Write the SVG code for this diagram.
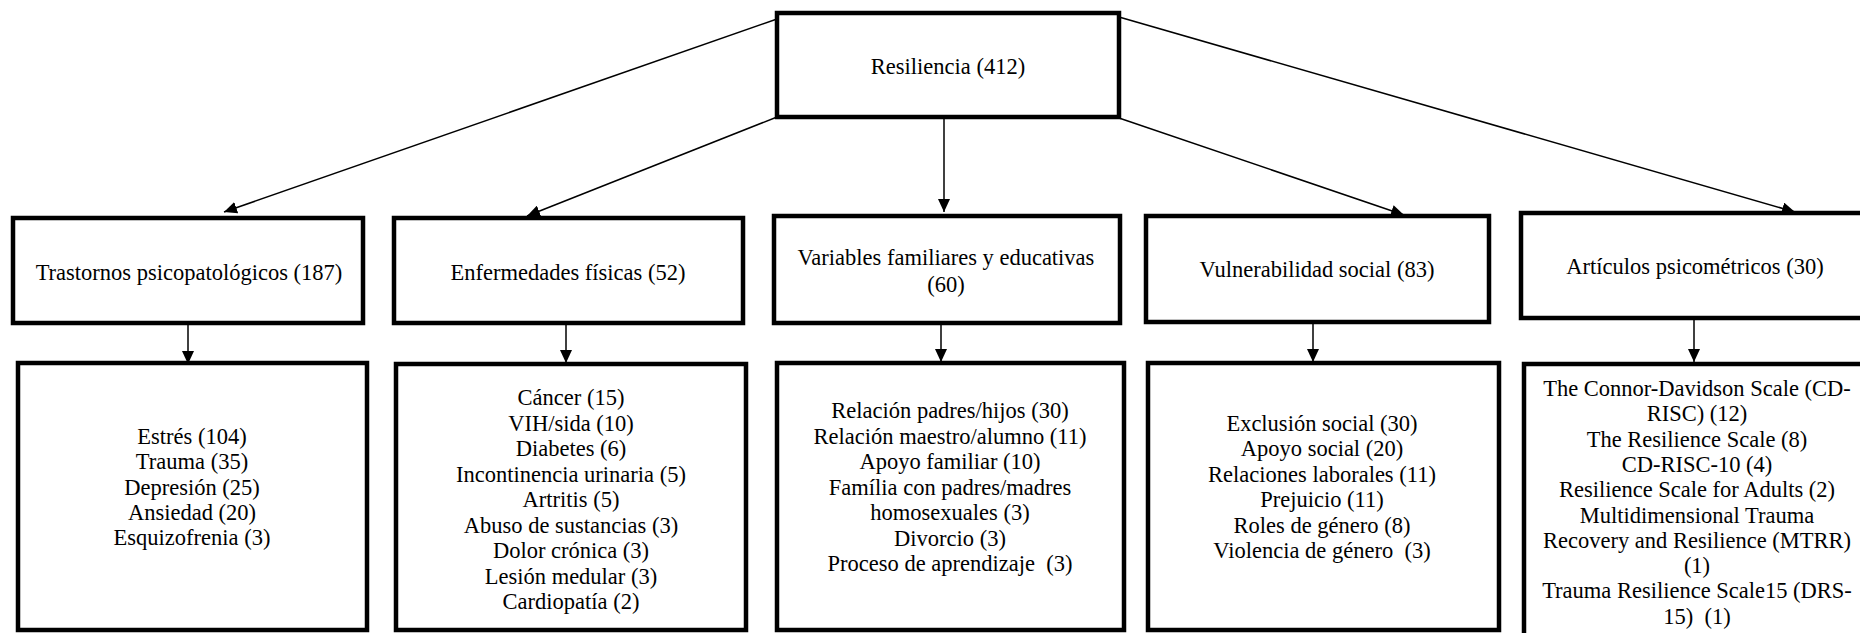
<svg xmlns="http://www.w3.org/2000/svg" width="1860" height="633" viewBox="0 0 1860 633">
<style>
.box{fill:#fff;stroke:#000;stroke-width:4.5}
.t{font-family:"Liberation Serif","Times New Roman",serif;font-size:22.5px;fill:#000;text-anchor:middle}
.c{stroke:#000;stroke-width:1.5;fill:none;marker-end:url(#ah)}
</style>
<defs>
<marker id="ah" markerUnits="userSpaceOnUse" markerWidth="14" markerHeight="12" refX="13" refY="6" orient="auto">
<path d="M0,0 L13,6 L0,12 z" fill="#000"/>
</marker>
</defs>
<rect width="1860" height="633" fill="#fff"/>
<g id="connectors">
<line class="c" x1="777" y1="19" x2="224" y2="212"/>
<line class="c" x1="777" y1="117" x2="527" y2="216"/>
<line class="c" x1="944" y1="117" x2="944" y2="212"/>
<line class="c" x1="1119" y1="118" x2="1404" y2="215"/>
<line class="c" x1="1119" y1="17" x2="1795" y2="212"/>
<line class="c" x1="188" y1="323" x2="188" y2="364"/>
<line class="c" x1="566" y1="323" x2="566" y2="363"/>
<line class="c" x1="941" y1="323" x2="941" y2="362"/>
<line class="c" x1="1313" y1="323" x2="1313" y2="362"/>
<line class="c" x1="1694" y1="318" x2="1694" y2="362"/>
</g>
<g id="root">
<rect class="box" x="777" y="13" width="342" height="104"/>
<text class="t" x="948" y="74">Resiliencia (412)</text>
</g>
<g id="trastornos">
<rect class="box" x="13" y="218" width="350" height="105"/>
<text class="t" x="189" y="280">Trastornos psicopatológicos (187)</text>
</g>
<g id="enfermedades">
<rect class="box" x="394" y="218" width="349" height="105"/>
<text class="t" x="568" y="280">Enfermedades físicas (52)</text>
</g>
<g id="variables">
<rect class="box" x="774" y="216" width="346" height="107"/>
<text class="t" x="946" y="265">Variables familiares y educativas</text>
<text class="t" x="946" y="292">(60)</text>
</g>
<g id="vulnerabilidad">
<rect class="box" x="1146" y="216" width="343" height="106"/>
<text class="t" x="1317" y="277">Vulnerabilidad social (83)</text>
</g>
<g id="articulos">
<rect class="box" x="1521" y="213" width="360" height="105"/>
<text class="t" x="1695" y="274">Artículos psicométricos (30)</text>
</g>
<g id="trastornos-items">
<rect class="box" x="18" y="363" width="349" height="267"/>
<text class="t" x="192" y="444"><tspan x="192">Estrés (104)</tspan><tspan x="192" dy="25.3">Trauma (35)</tspan><tspan x="192" dy="25.3">Depresión (25)</tspan><tspan x="192" dy="25.3">Ansiedad (20)</tspan><tspan x="192" dy="25.3">Esquizofrenia (3)</tspan></text>
</g>
<g id="enfermedades-items">
<rect class="box" x="396" y="364" width="350" height="266"/>
<text class="t" x="571" y="405"><tspan x="571">Cáncer (15)</tspan><tspan x="571" dy="25.5">VIH/sida (10)</tspan><tspan x="571" dy="25.5">Diabetes (6)</tspan><tspan x="571" dy="25.5">Incontinencia urinaria (5)</tspan><tspan x="571" dy="25.5">Artritis (5)</tspan><tspan x="571" dy="25.5">Abuso de sustancias (3)</tspan><tspan x="571" dy="25.5">Dolor crónica (3)</tspan><tspan x="571" dy="25.5">Lesión medular (3)</tspan><tspan x="571" dy="25.5">Cardiopatía (2)</tspan></text>
</g>
<g id="variables-items">
<rect class="box" x="777" y="363" width="347" height="267"/>
<text class="t" x="950" y="418" xml:space="preserve"><tspan x="950">Relación padres/hijos (30)</tspan><tspan x="950" dy="25.5">Relación maestro/alumno (11)</tspan><tspan x="950" dy="25.5">Apoyo familiar (10)</tspan><tspan x="950" dy="25.5">Família con padres/madres</tspan><tspan x="950" dy="25.5">homosexuales (3)</tspan><tspan x="950" dy="25.5">Divorcio (3)</tspan><tspan x="950" dy="25.5">Proceso de aprendizaje  (3)</tspan></text>
</g>
<g id="vulnerabilidad-items">
<rect class="box" x="1148" y="363" width="351" height="267"/>
<text class="t" x="1322" y="431" xml:space="preserve"><tspan x="1322">Exclusión social (30)</tspan><tspan x="1322" dy="25.4">Apoyo social (20)</tspan><tspan x="1322" dy="25.4">Relaciones laborales (11)</tspan><tspan x="1322" dy="25.4">Prejuicio (11)</tspan><tspan x="1322" dy="25.4">Roles de género (8)</tspan><tspan x="1322" dy="25.4">Violencia de género  (3)</tspan></text>
</g>
<g id="articulos-items">
<rect class="box" x="1524" y="364" width="360" height="290"/>
<text class="t" x="1697" y="396" xml:space="preserve"><tspan x="1697">The Connor-Davidson Scale (CD-</tspan><tspan x="1697" dy="25.3">RISC) (12)</tspan><tspan x="1697" dy="25.3">The Resilience Scale (8)</tspan><tspan x="1697" dy="25.3">CD-RISC-10 (4)</tspan><tspan x="1697" dy="25.3">Resilience Scale for Adults (2)</tspan><tspan x="1697" dy="25.3">Multidimensional Trauma</tspan><tspan x="1697" dy="25.3">Recovery and Resilience (MTRR)</tspan><tspan x="1697" dy="25.3">(1)</tspan><tspan x="1697" dy="25.3">Trauma Resilience Scale15 (DRS-</tspan><tspan x="1697" dy="25.3">15)  (1)</tspan></text>
</g>
</svg>
